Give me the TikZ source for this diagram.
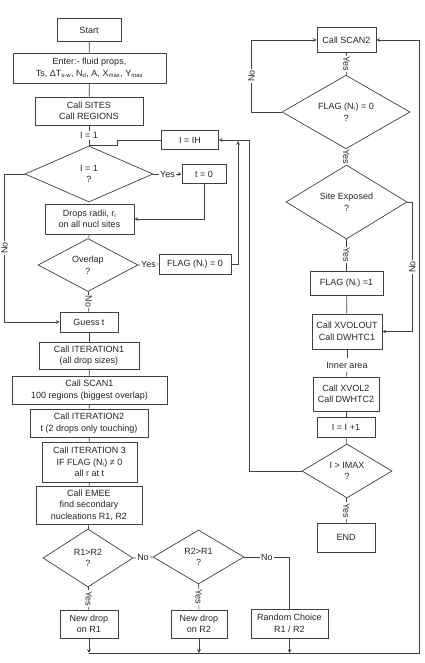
\documentclass[tikz,border=0pt]{standalone}
\usepackage{fontspec}
\setmainfont{Liberation Sans}
\usetikzlibrary{shapes,arrows,positioning,calc}

\begin{document}
\begin{tikzpicture}[
    x=1pt, y=-1pt,
    line width=0.7pt,
    every node/.style={font=\fontsize{9}{11.5}\selectfont, text=black!85},
    box/.style={rectangle, draw=black!75, fill=white, align=center, inner sep=0pt},
    decide/.style={diamond, draw=black!75, fill=white, align=center, inner sep=0pt},
    lbl/.style={fill=white, inner sep=1pt},
    arrow/.style={->, >=stealth, draw=black!75},
    line/.style={draw=black!75}
]
    \useasboundingbox (0,0) rectangle (424,663);

    % left column
    \node[box, minimum width=64, minimum height=23] (start) at (89,30) {Start};
    \node[box, minimum width=153, minimum height=30] (enter) at (89.5,68) {Enter:- fluid props,\\Ts, ΔT\textsubscript{s-w}, N\textsubscript{d}, A, X\textsubscript{max}, Y\textsubscript{max}};
    \node[box, minimum width=108, minimum height=28] (sites) at (89,111) {Call SITES\\Call REGIONS};
    \node[decide, minimum width=128, minimum height=56] (ione) at (89,174) {I = 1\\?};
    \node[box, minimum width=44, minimum height=19] (tzero) at (204,174) {t = 0};
    \node[box, minimum width=57, minimum height=19] (ih) at (190,140) {I = IH};
    \node[box, minimum width=89, minimum height=30] (drops) at (89.5,219) {Drops radii, r\textsubscript{i}\\on all nucl sites};
    \node[decide, minimum width=100, minimum height=53] (overlap) at (88,265) {Overlap\\?};
    \node[box, minimum width=72, minimum height=20] (flagzero) at (195,264) {FLAG (N\textsubscript{i}) = 0};
    \node[box, minimum width=58, minimum height=20] (guess) at (89,322) {Guess t};
    \node[box, minimum width=100, minimum height=27] (iterone) at (89,355.5) {Call ITERATION1\\(all drop sizes)};
    \node[box, minimum width=155, minimum height=28] (scanone) at (89.5,390) {Call SCAN1\\100 regions (biggest overlap)};
    \node[box, minimum width=118, minimum height=28] (itertwo) at (89,423) {Call ITERATION2\\t (2 drops only touching)};
    \node[box, minimum width=95, minimum height=40] (iterthree) at (89.5,462) {Call ITERATION 3\\IF FLAG (N\textsubscript{i}) ≠ 0\\all r at t};
    \node[box, minimum width=106, minimum height=38] (emee) at (89,505) {Call EMEE\\find secondary\\nucleations R1, R2};
    \node[decide, minimum width=90, minimum height=58] (ronetwo) at (88,558) {R1>R2\\?};
    \node[decide, minimum width=91, minimum height=54] (rtwoone) at (198.5,557) {R2>R1\\?};
    \node[box, minimum width=58, minimum height=28] (newone) at (89,624) {New drop\\on R1};
    \node[box, minimum width=56, minimum height=28] (newtwo) at (199,624) {New drop\\on R2};
    \node[box, minimum width=77, minimum height=29] (random) at (289.5,623.5) {Random Choice\\R1 / R2};

    % right column
    \node[box, minimum width=59, minimum height=25] (scantwo) at (346.5,40) {Call SCAN2};
    \node[decide, minimum width=128, minimum height=66] (flagdec) at (346,112) {FLAG (N\textsubscript{i}) = 0\\?};
    \node[decide, minimum width=121, minimum height=74] (site) at (346.5,202) {Site Exposed\\?};
    \node[box, minimum width=73, minimum height=24] (flagone) at (346.5,283) {FLAG (N\textsubscript{i}) =1};
    \node[box, minimum width=70, minimum height=35] (xvolout) at (347,331.5) {Call XVOLOUT\\Call DWHTC1};
    \node (inner) at (347,365) {Inner area};
    \node[box, minimum width=66, minimum height=34] (xvoltwo) at (346,394) {Call XVOL2\\Call DWHTC2};
    \node[box, minimum width=58, minimum height=20] (incr) at (346,427) {I = I +1};
    \node[decide, minimum width=90, minimum height=54] (imax) at (347,471) {I > IMAX\\?};
    \node[box, minimum width=58, minimum height=29] (finish) at (346,537.5) {END};

    \coordinate (merge) at (238,141);
    \coordinate (botleft) at (89,653);
    \coordinate (botright) at (419,653);

    % left connectors
    \draw[line] (start) -- (enter);
    \draw[line] (enter) -- (sites);
    \draw[line] (sites) -- node[lbl] {I = 1} (ione);
    \draw[line] (ih.west) -- ++(-44,0) |- (ione.north);
    \draw[arrow] (ione.east) -- node[lbl] {Yes} (tzero.west);
    \draw[arrow] (tzero.south) |- (drops.east);
    \draw[arrow] (ione.west) -- ++(-20,0) |- node[lbl, pos=0.25, rotate=90] {No} (guess.west);
    \draw[line] (drops) -- (overlap);
    \draw[line] (overlap.east) -- node[lbl] {Yes} (flagzero.west);
    \draw[line] (overlap) -- node[lbl, rotate=-90] {No} (guess);
    \draw[arrow] (flagzero.east) -| (merge);
    \draw[arrow] (imax.west) -- ++(-52,0) |- (ih.east);
    \draw[line] (guess) -- (iterone);
    \draw[line] (iterone) -- (scanone);
    \draw[line] (scanone) -- (itertwo);
    \draw[line] (itertwo) -- (iterthree);
    \draw[line] (iterthree) -- (emee);
    \draw[line] (emee) -- (ronetwo);
    \draw[line] (ronetwo.east) -- node[lbl] {No} (rtwoone.west);
    \draw[line] (ronetwo) -- node[lbl, rotate=-90] {Yes} (newone);
    \draw[line] (rtwoone) -- node[lbl, rotate=-90] {Yes} (newtwo);
    \draw[line] (rtwoone.east) -| node[lbl, pos=0.25] {No} (random.north);
    \draw[arrow] (newone.south) -- (newone.south |- botleft);
    \draw[arrow] (newtwo.south) -- (newtwo.south |- botleft);
    \draw[arrow] (random.south) -- (random.south |- botleft);
    \draw[arrow] (botleft) -- (botright) |- (scantwo.east);

    % right connectors
    \draw[line] (scantwo) -- node[lbl, rotate=-90] {Yes} (flagdec);
    \draw[arrow] (flagdec.west) -- ++(-30,0) |- node[lbl, pos=0.25, rotate=90] {No} (scantwo.west);
    \draw[line] (flagdec) -- node[lbl, rotate=-90] {Yes} (site);
    \draw[arrow] (site.east) -- ++(5,0) |- node[lbl, pos=0.25, rotate=90] {No} (xvolout.east);
    \draw[line] (site) -- node[lbl, rotate=-90] {Yes} (flagone);
    \draw[line] (flagone) -- (xvolout);
    \draw[line] (xvolout) -- (inner);
    \draw[line] (inner) -- (xvoltwo);
    \draw[line] (xvoltwo) -- (incr);
    \draw[line] (incr) -- (imax);
    \draw[line] (imax) -- node[lbl, rotate=-90] {Yes} (finish);
\end{tikzpicture}
\end{document}
